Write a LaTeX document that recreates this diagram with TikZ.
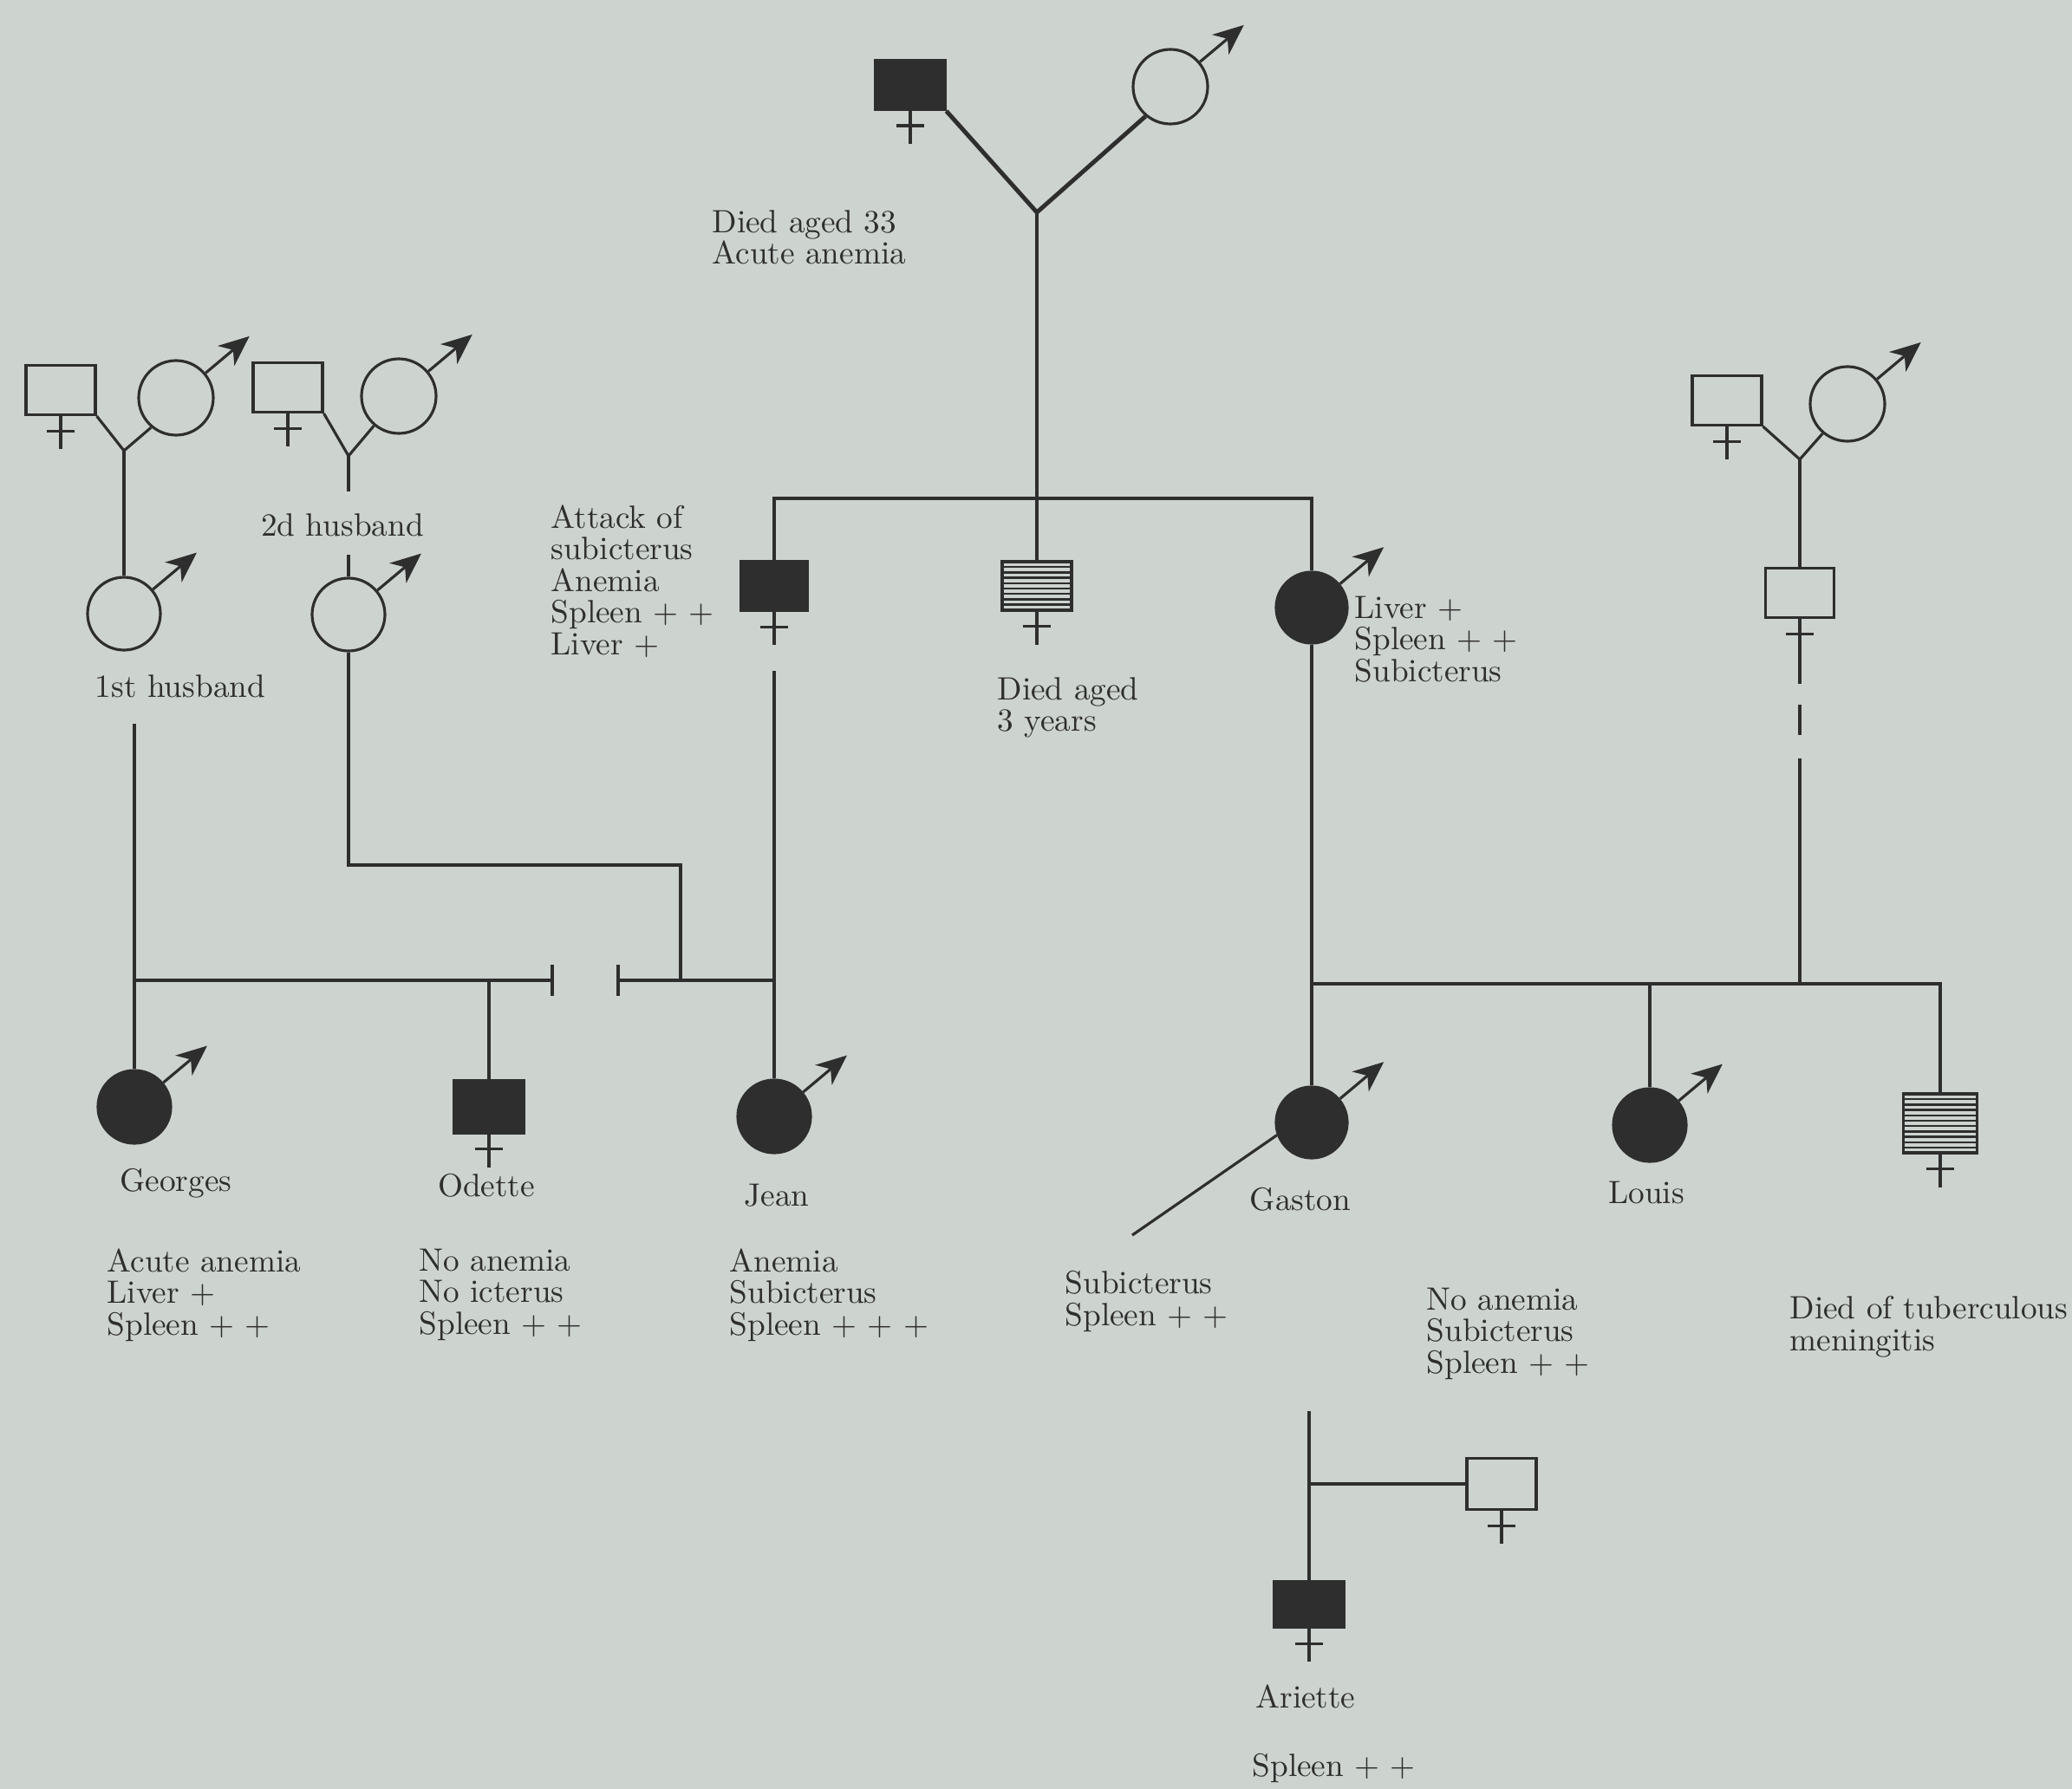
\documentclass[tikz,border=0pt]{standalone}
\usepackage{tikz}
\usetikzlibrary{arrows.meta}

\definecolor{paper}{HTML}{CDD3CF}
\definecolor{ink}{HTML}{2E2E2E}

\tikzset{
  malesym/.style={circle, draw, minimum size=0.86cm, inner sep=0pt},
  affmale/.style={malesym, fill=ink, minimum size=0.84cm},
  femsym/.style={rectangle, draw, minimum width=0.80cm, minimum height=0.57cm, inner sep=0pt},
  afffem/.style={femsym, fill=ink},
  stripefem/.style={femsym, path picture={
      \foreach \k in {1,...,11}
        \draw[line width=0.7pt] ([yshift=-\k*0.062cm]path picture bounding box.north west)
          -- ([yshift=-\k*0.062cm]path picture bounding box.north east);}},
  marrow/.style={-{Stealth[length=10pt,width=8.5pt,inset=3pt]}},
  heavy/.style={line width=1.4pt},
  note/.style={anchor=north west, align=left, inner sep=0pt},
  lbl/.style={anchor=north, inner sep=0pt}
}

\begin{document}
\begin{tikzpicture}[line width=0.9pt, color=ink, font=\fontsize{10.6}{10.4}\selectfont]
    \fill[paper] (0,0) rectangle (23.90,-20.64);
    \useasboundingbox (0,0) rectangle (23.90,-20.64);

    % first generation
    \node[afffem] (grandma) at (10.50,-0.98) {};
    \node[malesym] (grandpa) at (13.50,-1.00) {};
    \coordinate (topjoin) at (11.96,-2.45);
    \node[note] (note33) at (8.20,-2.41) {Died aged 33\\Acute anemia};

    % their children
    \node[afffem, minimum width=0.76cm] (daughter) at (8.93,-6.76) {};
    \node[stripefem, minimum height=0.56cm] (infant) at (11.96,-6.76) {};
    \node[affmale, minimum size=0.82cm] (son) at (15.13,-7.01) {};
    \coordinate (sib) at (11.96,-5.75);
    \node[note] (attacknote) at (6.34,-5.81) {Attack of\\subicterus\\Anemia\\Spleen + +\\Liver +};
    \node[note] (infantnote) at (11.49,-7.80) {Died aged\\3 years};
    \node[note] (sonnote) at (15.61,-6.86) {Liver +\\Spleen + +\\Subicterus};

    % husbands and their parents
    \node[femsym] (hgma1) at (0.70,-4.50) {};
    \node[malesym] (hgpa1) at (2.03,-4.59) {};
    \coordinate (join1) at (1.43,-5.20);
    \node[malesym, minimum size=0.84cm] (husband1) at (1.43,-7.08) {};
    \node[lbl] (husb1lbl) at (2.08,-7.77) {1st husband};

    \node[femsym] (hgma2) at (3.32,-4.47) {};
    \node[malesym] (hgpa2) at (4.60,-4.57) {};
    \coordinate (join2) at (4.02,-5.26);
    \coordinate (stub2a) at (4.02,-5.67);
    \coordinate (stub2b) at (4.02,-6.40);
    \node[lbl] (husb2lbl) at (3.95,-5.91) {2d husband};
    \node[malesym, minimum size=0.84cm] (husband2) at (4.02,-7.09) {};
    \coordinate (h2corner) at (4.02,-9.98);
    \coordinate (h2meet) at (7.85,-11.31);

    % wife of the son and her parents
    \node[femsym] (wgma) at (19.92,-4.62) {};
    \node[malesym] (wgpa) at (21.31,-4.66) {};
    \coordinate (join3) at (20.76,-5.30);
    \node[femsym, minimum width=0.79cm] (wife) at (20.76,-6.84) {};

    % third generation
    \coordinate (h1top) at (1.55,-8.35);
    \coordinate (teeL) at (6.37,-11.31);
    \coordinate (teeR) at (7.13,-11.31);
    \coordinate (jtop) at (8.93,-7.74);
    \coordinate (wedline) at (20.76,-11.35);
    \node[affmale] (georges) at (1.55,-12.77) {};
    \node[afffem, minimum height=0.60cm] (odette) at (5.64,-12.77) {};
    \node[affmale] (jean) at (8.93,-12.88) {};
    \node[affmale, minimum size=0.82cm] (gaston) at (15.13,-12.95) {};
    \node[affmale] (louis) at (19.03,-12.98) {};
    \node[stripefem, minimum width=0.85cm, minimum height=0.68cm] (tbsister) at (22.38,-12.96) {};
    \coordinate (gastonptr) at (13.06,-14.25);

    \node[lbl] at (2.03,-13.47) {Georges};
    \node[lbl] at (5.61,-13.53) {Odette};
    \node[lbl] at (8.96,-13.64) {Jean};
    \node[lbl] at (15.00,-13.69) {Gaston};
    \node[lbl] at (18.99,-13.61) {Louis};
    \node[note] at (1.22,-14.39) {Acute anemia\\Liver +\\Spleen + +};
    \node[note] at (4.82,-14.39) {No anemia\\No icterus\\Spleen + +};
    \node[note] at (8.40,-14.39) {Anemia\\Subicterus\\Spleen + + +};
    \node[note] at (12.27,-14.65) {Subicterus\\Spleen + +};
    \node[note] at (16.44,-14.84) {No anemia\\Subicterus\\Spleen + +};
    \node[note] at (20.63,-14.94) {Died of tuberculous\\meningitis};

    % fourth generation
    \coordinate (atop) at (15.10,-16.28);
    \node[femsym, minimum height=0.59cm] (spouse) at (17.32,-17.12) {};
    \node[afffem, minimum height=0.53cm] (ariette) at (15.10,-18.51) {};
    \node[lbl] at (15.06,-19.42) {Ariette};
    \node[note] at (14.43,-20.22) {Spleen + +};

    % sex signs
    \foreach \n in {grandpa,hgpa1,hgpa2,wgpa,husband1,husband2,son,georges,jean,gaston,louis}
        \draw[marrow] (\n.40) -- ++(40:0.66);
    \foreach \n in {grandma,hgma1,hgma2,wgma,wife,daughter,infant,odette,tbsister,spouse,ariette} {
        \draw (\n.south) -- ++(0,-0.38);
        \draw (\n.south) ++(-0.16,-0.17) -- ++(0.32,0);
    }

    % lines of descent
    \draw[heavy] (grandma.south east) -- (topjoin) -- (grandpa.230);
    \draw (topjoin) -- (infant.north);
    \draw (daughter.north) |- (sib) -| (son.north);

    \draw (hgma1.south east) -- (join1) -- (hgpa1.230);
    \draw (join1) -- (husband1.north);
    \draw (hgma2.south east) -- (join2) -- (hgpa2.230);
    \draw (join2) -- (stub2a);
    \draw (stub2b) -- (husband2.north);
    \draw (husband2.south) -- (h2corner) -| (h2meet);

    \draw (h1top) -- (georges.north);
    \draw (h1top |- teeL) -- (teeL);
    \draw (teeL) ++(0,0.18) -- ++(0,-0.36);
    \draw (teeR) ++(0,0.18) -- ++(0,-0.36);
    \draw (teeR) -- (jtop |- teeR);
    \draw (odette.north) -- (odette.north |- teeL);
    \draw (jtop) -- (jean.north);

    \draw (wgma.south east) -- (join3) -- (wgpa.230);
    \draw (join3) -- (wife.north);
    \draw[heavy] (wife.south) -- ++(0,-0.75);
    \draw[heavy] (20.76,-8.13) -- (20.76,-8.48);
    \draw (20.76,-8.75) -- (wedline);

    \draw (son.south) -- (gaston.north);
    \draw (son.south |- wedline) -- (wedline) -| (tbsister.north);
    \draw (louis.north) -- (louis.north |- wedline);
    \draw (gaston.200) -- (gastonptr);

    \draw (atop) -- (ariette.north);
    \draw (atop |- spouse.west) -- (spouse.west);
\end{tikzpicture}
\end{document}
